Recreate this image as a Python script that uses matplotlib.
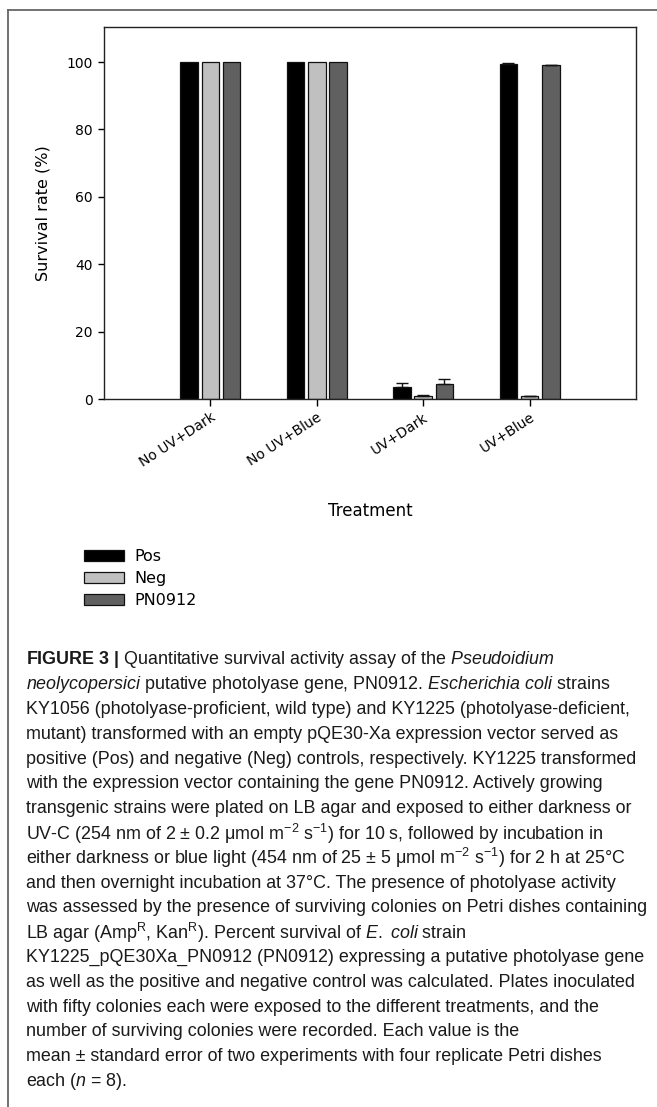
import numpy as np
import matplotlib
matplotlib.use("Agg")
import matplotlib.pyplot as plt
from matplotlib import font_manager
from matplotlib.lines import Line2D

# data
treatments = ["No UV+Dark", "No UV+Blue", "UV+Dark", "UV+Blue"]
strains = ["Pos", "Neg", "PN0912"]
pos_mean = [100.0, 100.0, 3.7, 99.5]
pos_err = [0.0, 0.0, 1.2, 0.3]
neg_mean = [100.0, 100.0, 1.0, 0.9]
neg_err = [0.0, 0.0, 0.2, 0.2]
pn_mean = [100.0, 100.0, 4.6, 99.0]
pn_err = [0.0, 0.0, 1.5, 0.2]
yticks = [0, 20, 40, 60, 80, 100]

caption_lines = [
    r"$\mathbf{FIGURE\ 3\ |}$ Quantitative survival activity assay of the $\mathit{Pseudoidium}$",
    r"$\mathit{neolycopersici}$ putative photolyase gene, PN0912. $\mathit{Escherichia\ coli}$ strains",
    "KY1056 (photolyase-proficient, wild type) and KY1225 (photolyase-deficient,",
    "mutant) transformed with an empty pQE30-Xa expression vector served as",
    "positive (Pos) and negative (Neg) controls, respectively. KY1225 transformed",
    "with the expression vector containing the gene PN0912. Actively growing",
    "transgenic strains were plated on LB agar and exposed to either darkness or",
    r"UV-C (254 nm of 2 ± 0.2 μmol m$^{-2}$ s$^{-1}$) for 10 s, followed by incubation in",
    r"either darkness or blue light (454 nm of 25 ± 5 μmol m$^{-2}$ s$^{-1}$) for 2 h at 25°C",
    "and then overnight incubation at 37°C. The presence of photolyase activity",
    "was assessed by the presence of surviving colonies on Petri dishes containing",
    r"LB agar (Amp$^{\mathrm{R}}$, Kan$^{\mathrm{R}}$). Percent survival of $\mathit{E.\ coli}$ strain",
    "KY1225_pQE30Xa_PN0912 (PN0912) expressing a putative photolyase gene",
    "as well as the positive and negative control was calculated. Plates inoculated",
    "with fifty colonies each were exposed to the different treatments, and the",
    "number of surviving colonies were recorded. Each value is the",
    "mean ± standard error of two experiments with four replicate Petri dishes",
    r"each ($\mathit{n}$ = 8).",
]

# caption font: narrow sans if we have it
names = {f.name for f in font_manager.fontManager.ttflist}
if "Liberation Sans Narrow" in names:
    cap_font = "Liberation Sans Narrow"
    cap_size = 15.5
else:
    cap_font = "Liberation Sans"
    cap_size = 12.9
plt.rcParams["mathtext.fontset"] = "custom"
plt.rcParams["mathtext.rm"] = cap_font
plt.rcParams["mathtext.it"] = cap_font + ":italic"
plt.rcParams["mathtext.bf"] = cap_font + ":bold"

W, H = 657, 1107
fig = plt.figure(figsize=(W / 100, H / 100), dpi=100)

# axes box in pixels
left, right, top, bottom = 104, 636, 27.3, 399.3
ax = fig.add_axes([left / W, 1 - bottom / H, (right - left) / W, (bottom - top) / H])

x = np.arange(1, len(treatments) + 1)
w = 0.165
off = 0.2
colors = ["black", "#c0c0c0", "#606060"]
means = [pos_mean, neg_mean, pn_mean]
errs = [pos_err, neg_err, pn_err]
bars = []
for i in range(3):
    e = np.array(errs[i])
    b = ax.bar(x + (i - 1) * off, means[i], width=w, color=colors[i],
               edgecolor="#111111", linewidth=0.9, label=strains[i], zorder=2)
    bars.append(b)
    m = e > 0
    ax.errorbar((x + (i - 1) * off)[m], np.array(means[i])[m],
                yerr=[np.zeros(m.sum()), e[m]], fmt="none", ecolor="#111111",
                elinewidth=1.0, capsize=4, capthick=1.0, zorder=3)

ax.set_xlim(0, 5)
ax.set_ylim(0, 110.3)
ax.set_yticks(yticks)
ax.set_yticklabels([str(v) for v in yticks], fontsize=10)
ax.set_xticks(x)
ax.set_xticklabels(treatments, fontsize=10, rotation=33, ha="right",
                   rotation_mode="anchor")
ax.tick_params(axis="y", direction="out", length=4, width=1, pad=4)
ax.tick_params(axis="x", direction="out", length=5, width=1, pad=3)
for s in ax.spines.values():
    s.set_linewidth(1.0)
    s.set_color("#222222")

ax.set_ylabel("Survival rate (%)", fontsize=11.5)
ax.yaxis.set_label_coords((50 - left) / (right - left), 0.5)
ax.set_xlabel("Treatment", fontsize=12)
ax.xaxis.set_label_coords(0.5, -(502 - bottom) / (bottom - top))

fig.legend(handles=bars, labels=strains, loc="upper left",
           bbox_to_anchor=(84 / W, 1 - 549 / H), frameon=False, fontsize=11.5,
           handlelength=2.5, handleheight=0.7, handletextpad=0.65,
           labelspacing=0.45, borderpad=0, borderaxespad=0)

# outer frame (only top and left edges are inside the crop)
fig.add_artist(Line2D([8 / W, 8 / W], [0, 1 - 10 / H], color="#666666", lw=1.3))
fig.add_artist(Line2D([8 / W, 1], [1 - 10 / H, 1 - 10 / H], color="#666666", lw=1.3))

y0 = 660
dy = 24.8
for k, line in enumerate(caption_lines):
    fig.text(26 / W, 1 - (y0 + k * dy) / H, line, fontsize=cap_size,
             family=cap_font, color="#1a1a1a", va="center", ha="left")

fig.savefig("out.png", dpi=100)
